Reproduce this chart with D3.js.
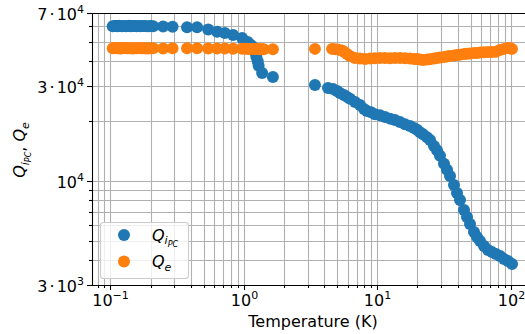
<!DOCTYPE html>
<html><head><meta charset="utf-8">
<script src="https://cdn.jsdelivr.net/npm/d3@7"></script>
<style>body{margin:0;background:#fff}text{font-family:"DejaVu Sans",sans-serif}</style>
</head><body><svg id="c" width="525" height="334"></svg>
<script>
// ---- data ----
const tempQi = [0.104,0.107,0.110,0.113,0.116,0.119,0.122,0.126,0.130,0.134,0.138,0.142,0.147,0.152,0.157,0.162,0.168,0.174,0.180,0.187,0.194,0.201,0.209,0.248,0.292,
 0.375,0.446,0.54,0.63,0.72,0.83,0.97,1.07,1.12,1.17,1.21,1.24,1.27,1.29,1.37,1.65,
 3.41,4.27,4.66,4.99,5.25,5.63,5.93,6.24,6.81,7.42,7.95,8.37,8.97,9.61,10.48,11.42,12.45,13.57,14.80,16.13,17.59,18.85,19.85,20.90,22.01,23.59,24.85,26.61,28.03,29.51,31.62,33.31,35.08,37.58,39.58,41.69,44.67,47.04,49.53,53.08,55.90,58.88,63.09,67.58,72.41,77.59,83.14,89.08,95.45,102.3];
const qiValues = [60100,60300,60200,60000,60400,60200,60100,60300,60000,60200,60400,60100,60200,60300,60000,60200,60100,60300,60200,60000,60100,60200,60000,59800,59700,
 59400,59300,57900,56300,55500,54200,52400,50000,48500,47200,44600,42100,40000,38000,34900,33400,
 30400,29400,29000,28400,27700,27100,26500,25900,25000,24100,23000,22500,22200,21700,21400,21000,20600,20300,19800,19300,18900,18500,18100,17600,17200,16600,16100,15000,14300,13400,12200,11400,10600,9550,8700,8030,7150,6590,6080,5540,5230,4990,4710,4500,4390,4290,4200,4050,3960,3830];

const tempQe = [0.104,0.107,0.110,0.113,0.116,0.119,0.122,0.126,0.130,0.134,0.138,0.142,0.147,0.152,0.157,0.162,0.168,0.174,0.180,0.187,0.194,0.201,0.209,0.248,0.292,
 0.375,0.446,0.54,0.63,0.72,0.83,0.97,1.03,1.07,1.12,1.17,1.21,1.25,1.29,1.33,1.37,1.41,1.65,
 3.41,4.58,4.83,5.13,5.43,5.68,5.93,6.24,6.81,7.42,8.09,8.83,9.61,10.48,11.42,12.45,13.57,14.80,16.13,17.59,18.85,19.85,20.90,22.01,23.59,24.85,26.61,28.03,29.51,31.62,33.31,35.08,37.58,39.58,41.69,44.67,47.04,49.53,53.08,55.90,58.88,63.09,67.58,72.41,77.59,83.14,89.08,95.45,99.0,102.3];
const qeValues = [46600,46500,46700,46500,46600,46400,46500,46700,46600,46500,46600,46500,46400,46600,46500,46700,46500,46600,46500,46400,46600,46500,46500,46400,46500,
 46500,46500,46400,46400,46400,46300,46300,46300,46200,46200,46200,46100,46100,46100,46000,46000,46000,46000,
 46200,46200,46000,45800,45400,44500,43500,42500,41600,41300,41100,41300,41400,41600,41600,41500,41600,41600,41500,41300,41100,41100,40800,40600,40800,41000,41300,41600,41800,42100,42300,42500,42800,43000,43200,43500,43700,43800,44000,44100,44300,44400,44600,44600,44700,45600,46200,46700,46500,46200];

const xMajorTicks = [0.1, 1, 10, 100];
const xTickExp = ["\u22121", "0", "1", "2"];
const yLabeledTicks = [3000, 10000, 30000, 70000];
const yTickMant = ["3", "", "3", "7"];
const yTickExp = ["3", "4", "4", "4"];
const yMinorTicks = [4000,5000,6000,7000,8000,9000,20000,40000,50000,60000];
const seriesColors = ["#1f77b4", "#ff7f0e"];

// ---- layout ----
const L = 92, R = 532, T = 13, B = 285;
const FS = 16, SUP = 11;
const svg = d3.select("#c");
const x = d3.scaleLog().domain([0.0727, 144.4]).range([L, R]);
const y = d3.scaleLog().domain([3000, 70000]).range([B, T]);

const xMinor = [];
for (let e = -2; e <= 2; e++) for (let k = 2; k <= 9; k++) {
  const v = k * Math.pow(10, e);
  if (v > x.domain()[0] && v < x.domain()[1]) xMinor.push(v);
}
const grid = svg.append("g").attr("stroke", "#b0b0b0").attr("stroke-width", 1.1);
xMajorTicks.concat(xMinor).forEach(v => {
  const px = Math.round(x(v)) + 0.5;
  grid.append("line").attr("x1", px).attr("x2", px).attr("y1", T).attr("y2", B);
});
yLabeledTicks.concat(yMinorTicks).forEach(v => {
  const py = Math.round(y(v)) + 0.5;
  grid.append("line").attr("x1", L).attr("x2", R).attr("y1", py).attr("y2", py);
});

svg.append("clipPath").attr("id", "clip").append("rect")
  .attr("x", L).attr("y", T).attr("width", R - L).attr("height", B - T);
const plot = svg.append("g").attr("clip-path", "url(#clip)");
plot.append("g").selectAll("circle").data(tempQi.map((t, i) => [t, qiValues[i]])).join("circle")
  .attr("cx", d => x(d[0])).attr("cy", d => y(d[1])).attr("r", 6).attr("fill", seriesColors[0]);
plot.append("g").selectAll("circle").data(tempQe.map((t, i) => [t, qeValues[i]])).join("circle")
  .attr("cx", d => x(d[0])).attr("cy", d => y(d[1])).attr("r", 6).attr("fill", seriesColors[1]);

// spines
const sp = svg.append("g").attr("stroke", "#000").attr("stroke-width", 1.1);
sp.append("line").attr("x1", L + 0.5).attr("x2", L + 0.5).attr("y1", T).attr("y2", B + 0.5);
sp.append("line").attr("x1", L).attr("x2", R).attr("y1", B + 0.5).attr("y2", B + 0.5);
sp.append("line").attr("x1", L).attr("x2", R).attr("y1", T + 0.5).attr("y2", T + 0.5);

// x ticks
xMajorTicks.forEach((v, i) => {
  const px = Math.round(x(v)) + 0.5;
  sp.append("line").attr("x1", px).attr("x2", px).attr("y1", B).attr("y2", B + 5);
  const t = svg.append("text").attr("x", px).attr("y", B + 21).attr("text-anchor", "middle")
    .attr("font-size", FS);
  t.append("tspan").text("10");
  t.append("tspan").attr("dy", -7).attr("font-size", SUP).text(xTickExp[i]);
});
xMinor.forEach(v => {
  const px = Math.round(x(v)) + 0.5;
  sp.append("line").attr("x1", px).attr("x2", px).attr("y1", B).attr("y2", B + 3);
});
// y ticks
yLabeledTicks.forEach((v, i) => {
  const py = Math.round(y(v)) + 0.5;
  sp.append("line").attr("x1", L - 5).attr("x2", L).attr("y1", py).attr("y2", py);
  const t = svg.append("text").attr("x", 84).attr("y", py + 6).attr("text-anchor", "end")
    .attr("font-size", FS);
  if (yTickMant[i]) {
    t.append("tspan").text(yTickMant[i]);
    t.append("tspan").attr("dx", 2).text("\u00b7");
    t.append("tspan").attr("dx", 2).text("10");
  } else {
    t.append("tspan").text("10");
  }
  t.append("tspan").attr("dy", -7).attr("font-size", SUP).text(yTickExp[i]);
});
yMinorTicks.forEach(v => {
  const py = Math.round(y(v)) + 0.5;
  sp.append("line").attr("x1", L - 3).attr("x2", L).attr("y1", py).attr("y2", py);
});

// axis labels
svg.append("text").attr("x", 313).attr("y", 327).attr("text-anchor", "middle")
  .attr("font-size", FS).text("Temperature (K)");
const yl = svg.append("text").attr("transform", "translate(25,150) rotate(-90)")
  .attr("text-anchor", "middle").attr("font-size", FS).attr("font-style", "italic");
yl.append("tspan").text("Q");
yl.append("tspan").attr("dy", 3.5).attr("font-size", SUP).text("i");
yl.append("tspan").attr("dy", 2.5).attr("font-size", 8).text("PC");
yl.append("tspan").attr("dy", -6).attr("font-style", "normal").text(", ");
yl.append("tspan").text("Q");
yl.append("tspan").attr("dy", 3.5).attr("font-size", SUP).text("e");

// legend
const lg = svg.append("g");
lg.append("rect").attr("x", 100.5).attr("y", 222.5).attr("width", 88).attr("height", 56).attr("rx", 3)
  .attr("fill", "#fff").attr("fill-opacity", 0.8).attr("stroke", "#cccccc").attr("stroke-width", 1.1);
lg.append("circle").attr("cx", 124).attr("cy", 235).attr("r", 6).attr("fill", seriesColors[0]);
lg.append("circle").attr("cx", 124).attr("cy", 261.5).attr("r", 6).attr("fill", seriesColors[1]);
const l1 = lg.append("text").attr("x", 152).attr("y", 240.5).attr("font-size", FS).attr("font-style", "italic");
l1.append("tspan").text("Q");
l1.append("tspan").attr("dy", 3.5).attr("font-size", SUP).text("i");
l1.append("tspan").attr("dy", 2.5).attr("font-size", 8).text("PC");
const l2 = lg.append("text").attr("x", 152).attr("y", 267).attr("font-size", FS).attr("font-style", "italic");
l2.append("tspan").text("Q");
l2.append("tspan").attr("dy", 3.5).attr("font-size", SUP).text("e");
</script></body></html>
